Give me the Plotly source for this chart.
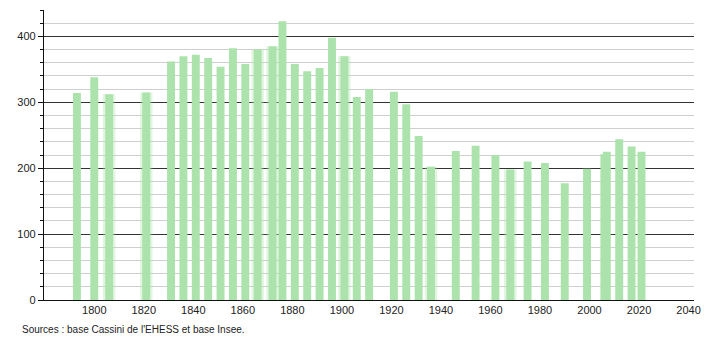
import plotly.graph_objects as go

years = [1793, 1800, 1806, 1821, 1831, 1836, 1841, 1846, 1851, 1856, 1861, 1866,
         1872, 1876, 1881, 1886, 1891, 1896, 1901, 1906, 1911, 1921, 1926, 1931,
         1936, 1946, 1954, 1962, 1968, 1975, 1982, 1990, 1999, 2006, 2007, 2012,
         2017, 2021]
population = [314, 338, 312, 315, 362, 370, 372, 367, 354, 382, 358, 380,
              385, 423, 358, 347, 352, 398, 370, 308, 320, 316, 297, 249,
              202, 226, 234, 220, 198, 210, 208, 177, 199, 221, 225, 244,
              233, 225]
blurred_years = [1806, 1821, 1866, 1872, 1901, 1936, 1968]
x_ticks = [1800, 1820, 1840, 1860, 1880, 1900, 1920, 1940, 1960, 1980, 2000, 2020, 2040]
y_ticks = [0, 100, 200, 300, 400]
source_text = "Sources : base Cassini de l'EHESS et base Insee."

bar_color = "#ace3ac"
font_family = "Liberation Sans, Arial, sans-serif"

blur_vals = [population[years.index(y)] for y in blurred_years]

fig = go.Figure()
# soft halo for bars rendered with blurred edges
fig.add_trace(go.Bar(x=blurred_years, y=blur_vals, width=5.0,
                     marker=dict(color=bar_color, line=dict(width=0)),
                     opacity=0.35, hoverinfo="skip", showlegend=False))
fig.add_trace(go.Bar(x=years, y=population, width=3.2,
                     marker=dict(color=bar_color, line=dict(width=0)),
                     showlegend=False))

fig.update_layout(
    width=710, height=340,
    margin=dict(l=44, r=9, t=10, b=40),
    paper_bgcolor="white", plot_bgcolor="white",
    barmode="overlay",
    font=dict(family=font_family, size=11, color="#222"),
    xaxis=dict(range=[1779.7, 2042.2], tickvals=x_ticks, ticks="",
               showgrid=False, zeroline=False, showline=True,
               linecolor="#111", linewidth=1.2,
               tickfont=dict(size=11, color="#222")),
    yaxis=dict(range=[0, 440], tickvals=y_ticks, ticks="outside", ticklen=5,
               tickcolor="#111", showgrid=True, gridcolor="#333", gridwidth=1,
               zeroline=False, showline=True, linecolor="#111", linewidth=1.2,
               tickfont=dict(size=11, color="#222"),
               minor=dict(dtick=20, showgrid=True, gridcolor="#cfcfcf",
                          gridwidth=1, ticks="outside", ticklen=3,
                          tickcolor="#111")),
    annotations=[dict(text=source_text, xref="paper", yref="paper",
                      x=-0.0365, y=-0.1, xanchor="left", yanchor="middle",
                      showarrow=False, font=dict(size=10, color="#222"))],
)

fig.write_html("out.html")
